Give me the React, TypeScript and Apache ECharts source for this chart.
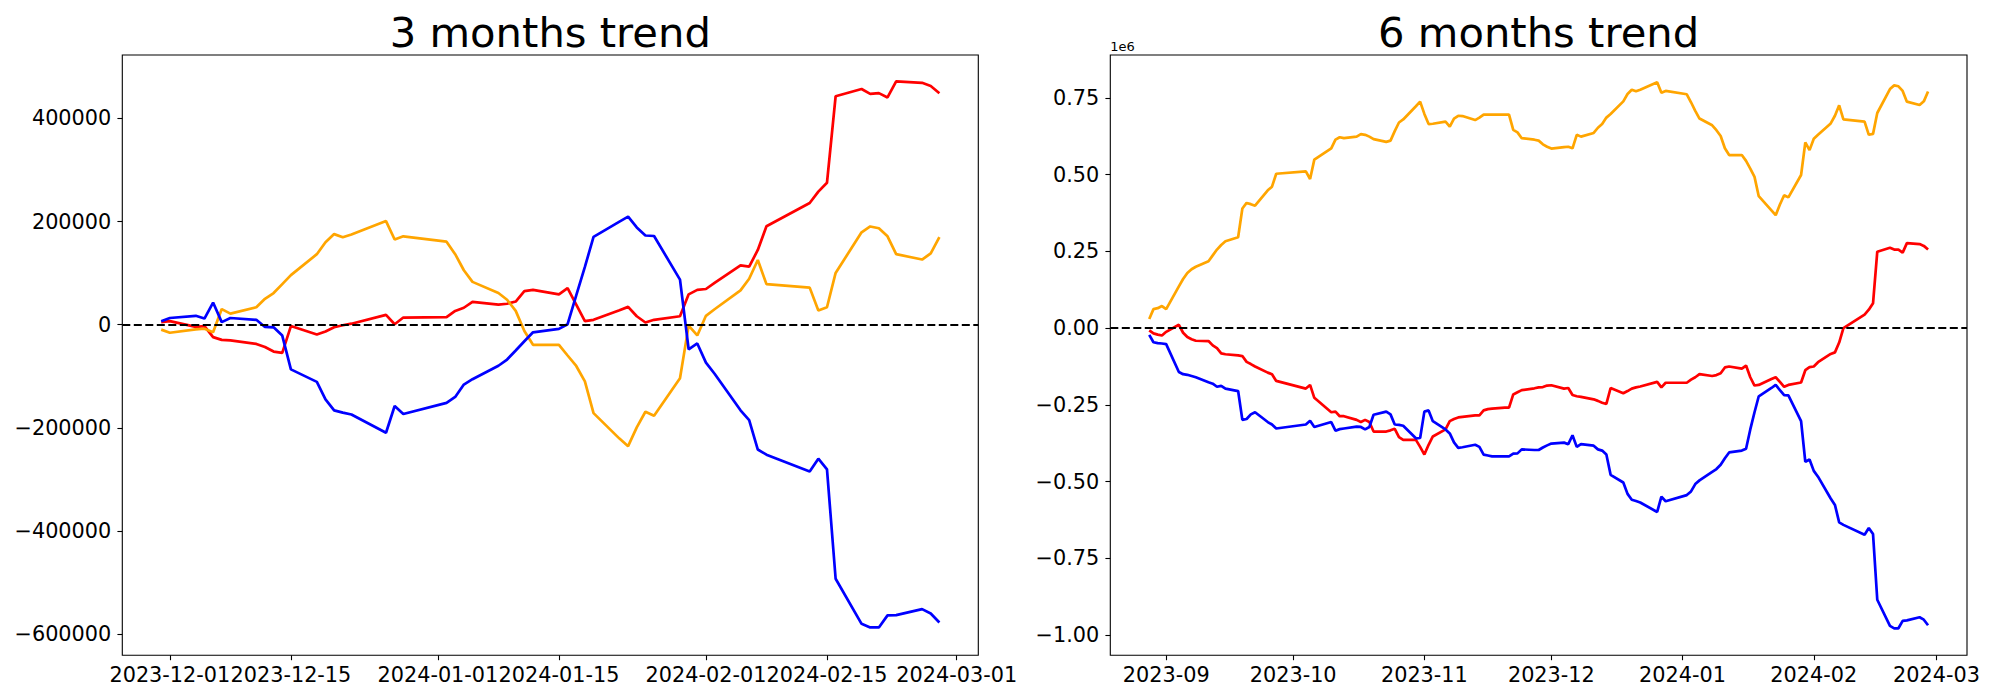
import React, { useEffect, useRef } from "react";
import * as echarts from "echarts";

// ---------- 3 months data (Korean trading days) ----------
const dates3m = [
  "2023-11-30",
  "2023-12-01", "2023-12-04", "2023-12-05", "2023-12-06", "2023-12-07", "2023-12-08",
  "2023-12-11", "2023-12-12", "2023-12-13", "2023-12-14", "2023-12-15",
  "2023-12-18", "2023-12-19", "2023-12-20", "2023-12-21", "2023-12-22",
  "2023-12-26", "2023-12-27", "2023-12-28",
  "2024-01-02", "2024-01-03", "2024-01-04", "2024-01-05",
  "2024-01-08", "2024-01-09", "2024-01-10", "2024-01-11", "2024-01-12",
  "2024-01-15", "2024-01-16", "2024-01-17", "2024-01-18", "2024-01-19",
  "2024-01-22", "2024-01-23", "2024-01-24", "2024-01-25", "2024-01-26",
  "2024-01-29", "2024-01-30", "2024-01-31",
  "2024-02-01", "2024-02-02", "2024-02-05", "2024-02-06", "2024-02-07", "2024-02-08",
  "2024-02-13", "2024-02-14", "2024-02-15", "2024-02-16",
  "2024-02-19", "2024-02-20", "2024-02-21", "2024-02-22", "2024-02-23",
  "2024-02-26", "2024-02-27", "2024-02-28",
];
const red3m = [
  5000,
  7000, -4300, -2600, -24000, -29400, -30300, -37200, -43300, -52000, -54500, -2600, -19000, -13000, -5000, -1000, 2000, 19000, 900, 13900,
  14700, 26800, 32900, 44200, 39000, 40700, 45000, 65000, 67500, 58900, 71000, 39000, 7000, 9500, 28000, 34600, 16400, 4300, 9500, 16400, 58900, 67500,
  69300, 81000, 115000, 112500, 145000, 191000, 236000, 258000, 275300, 443000, 457000, 447600, 449000, 440700, 472000, 469000, 463000, 449000,
];
const orange3m = [
  -9500,
  -15600, -9000, -7800, -14700, 30300, 21600, 33800, 50200, 61500, 78800, 96100, 136800, 160000, 175700, 169700, 175000, 200900, 165300, 171400,
  161000, 136800, 105600, 83100, 61500, 48500, 26800, -12100, -39000, -39000, -59700, -80000, -110000, -171400, -220800, -235500, -199100, -168800, -176600, -103900, -1700, -20800,
  17300, 30000, 66700, 89200, 125500, 78800, 71900, 27700, 33800, 100400, 179200, 190500, 187000, 171400, 136800, 126400, 138500, 169700,
];
const blue3m = [
  6900,
  13000, 17300, 12000, 43000, 5000, 13000, 9500, -4300, -5000, -21000, -86600, -110800, -144600, -166000, -170500, -174000, -209500, -157600, -173000,
  -151500, -140000, -116000, -105600, -79600, -67500, -50000, -32000, -14700, -8000, 1000, 57000, 112000, 170500, 200000, 209500, 188700, 173000, 172000, 87400, -47600, -36400,
  -73600, -95000, -166000, -185000, -242000, -252000, -284800, -259700, -280500, -492600, -580000, -587000, -587000, -563600, -563000, -551500, -560000, -577500,
];

// ---------- 6 months data (values in units of 1e6) ----------
const dates6m = [
  "2023-08-28", "2023-08-29", "2023-08-30", "2023-08-31",
  "2023-09-01", "2023-09-04", "2023-09-05", "2023-09-06", "2023-09-07", "2023-09-08",
  "2023-09-11", "2023-09-12", "2023-09-13", "2023-09-14", "2023-09-15",
  "2023-09-18", "2023-09-19", "2023-09-20", "2023-09-21", "2023-09-22",
  "2023-09-25", "2023-09-26", "2023-09-27",
  "2023-10-04", "2023-10-05", "2023-10-06", "2023-10-10", "2023-10-11", "2023-10-12", "2023-10-13",
  "2023-10-16", "2023-10-17", "2023-10-18", "2023-10-19", "2023-10-20",
  "2023-10-23", "2023-10-24", "2023-10-25", "2023-10-26", "2023-10-27", "2023-10-30", "2023-10-31",
  "2023-11-01", "2023-11-02", "2023-11-03", "2023-11-06", "2023-11-07", "2023-11-08", "2023-11-09", "2023-11-10",
  "2023-11-13", "2023-11-14", "2023-11-15", "2023-11-16", "2023-11-17",
  "2023-11-20", "2023-11-21", "2023-11-22", "2023-11-23", "2023-11-24",
  "2023-11-27", "2023-11-28", "2023-11-29", "2023-11-30",
  "2023-12-01", "2023-12-04", "2023-12-05", "2023-12-06", "2023-12-07", "2023-12-08",
  "2023-12-11", "2023-12-12", "2023-12-13", "2023-12-14", "2023-12-15",
  "2023-12-18", "2023-12-19", "2023-12-20", "2023-12-21", "2023-12-22",
  "2023-12-26", "2023-12-27", "2023-12-28",
  "2024-01-02", "2024-01-03", "2024-01-04", "2024-01-05",
  "2024-01-08", "2024-01-09", "2024-01-10", "2024-01-11", "2024-01-12",
  "2024-01-15", "2024-01-16", "2024-01-17", "2024-01-18", "2024-01-19",
  "2024-01-22", "2024-01-23", "2024-01-24", "2024-01-25", "2024-01-26",
  "2024-01-29", "2024-01-30", "2024-01-31",
  "2024-02-01", "2024-02-02", "2024-02-05", "2024-02-06", "2024-02-07", "2024-02-08",
  "2024-02-13", "2024-02-14", "2024-02-15", "2024-02-16",
  "2024-02-19", "2024-02-20", "2024-02-21", "2024-02-22", "2024-02-23",
  "2024-02-26", "2024-02-27", "2024-02-28",
];
const orange6m = [
  0.030, 0.062, 0.065, 0.072,
  0.062, 0.136, 0.160, 0.180, 0.192, 0.200, 0.218, 0.237, 0.256, 0.271, 0.283, 0.296, 0.390, 0.408, 0.404, 0.399, 0.449, 0.461, 0.503,
  0.511, 0.486, 0.549, 0.586, 0.614, 0.622, 0.619, 0.624, 0.632, 0.630, 0.624, 0.616, 0.607, 0.611, 0.642, 0.670, 0.680, 0.723, 0.738,
  0.698, 0.665, 0.666, 0.673, 0.657, 0.683, 0.692, 0.691, 0.678, 0.686, 0.696, 0.696, 0.696, 0.696, 0.696, 0.646, 0.638, 0.619, 0.614, 0.611, 0.599, 0.591,
  0.585, 0.590, 0.591, 0.586, 0.630, 0.624, 0.636, 0.653, 0.665, 0.686, 0.698, 0.739, 0.763, 0.777, 0.772, 0.777, 0.801, 0.767, 0.773,
  0.762, 0.736, 0.708, 0.683, 0.661, 0.645, 0.626, 0.586, 0.564, 0.564, 0.545, 0.520, 0.493, 0.430, 0.384, 0.368, 0.403, 0.433, 0.426, 0.499, 0.605, 0.580,
  0.617, 0.630, 0.667, 0.692, 0.726, 0.680, 0.673, 0.630, 0.633, 0.701, 0.779, 0.791, 0.788, 0.773, 0.738, 0.727, 0.739, 0.771,
];
const red6m = [
  -0.007, -0.017, -0.021, -0.024,
  -0.012, 0.011, -0.015, -0.029, -0.036, -0.041, -0.042, -0.056, -0.065, -0.082, -0.085, -0.089, -0.091, -0.110, -0.117, -0.125, -0.145, -0.150, -0.172,
  -0.197, -0.185, -0.227, -0.274, -0.272, -0.287, -0.287, -0.299, -0.306, -0.299, -0.306, -0.337, -0.337, -0.333, -0.328, -0.355, -0.364, -0.364, -0.387,
  -0.412, -0.380, -0.353, -0.330, -0.303, -0.296, -0.291, -0.289, -0.284, -0.284, -0.268, -0.264, -0.262, -0.259, -0.259, -0.216, -0.209, -0.202, -0.196, -0.193, -0.192, -0.187,
  -0.186, -0.197, -0.195, -0.218, -0.222, -0.224, -0.232, -0.237, -0.243, -0.247, -0.195, -0.212, -0.205, -0.197, -0.193, -0.190, -0.175, -0.193, -0.178,
  -0.178, -0.168, -0.160, -0.150, -0.156, -0.153, -0.147, -0.128, -0.125, -0.132, -0.122, -0.160, -0.187, -0.185, -0.166, -0.160, -0.175, -0.191, -0.185, -0.177, -0.137, -0.127,
  -0.125, -0.111, -0.084, -0.079, -0.047, 0.000, 0.044, 0.060, 0.081, 0.249, 0.262, 0.256, 0.256, 0.246, 0.277, 0.274, 0.268, 0.256,
];
const blue6m = [
  -0.022, -0.046, -0.049, -0.050,
  -0.052, -0.143, -0.150, -0.152, -0.156, -0.160, -0.176, -0.181, -0.191, -0.188, -0.197, -0.205, -0.299, -0.296, -0.281, -0.274, -0.306, -0.314, -0.327,
  -0.314, -0.302, -0.322, -0.306, -0.334, -0.329, -0.327, -0.321, -0.322, -0.330, -0.322, -0.282, -0.272, -0.281, -0.314, -0.315, -0.318, -0.359, -0.358,
  -0.272, -0.268, -0.303, -0.330, -0.343, -0.372, -0.390, -0.388, -0.380, -0.387, -0.412, -0.415, -0.418, -0.418, -0.418, -0.409, -0.408, -0.395, -0.397, -0.397, -0.389, -0.382,
  -0.376, -0.373, -0.378, -0.349, -0.387, -0.378, -0.383, -0.395, -0.399, -0.412, -0.478, -0.503, -0.540, -0.559, -0.563, -0.568, -0.599, -0.549, -0.564,
  -0.544, -0.532, -0.508, -0.496, -0.468, -0.459, -0.445, -0.424, -0.405, -0.399, -0.393, -0.330, -0.274, -0.222, -0.195, -0.185, -0.202, -0.218, -0.219, -0.303, -0.436, -0.428,
  -0.465, -0.484, -0.555, -0.576, -0.633, -0.641, -0.673, -0.651, -0.671, -0.885, -0.970, -0.978, -0.978, -0.954, -0.952, -0.942, -0.950, -0.968,
];

// ---------- tick labels ----------
const xTicks3m = ["2023-12-01", "2023-12-15", "2024-01-01", "2024-01-15", "2024-02-01", "2024-02-15", "2024-03-01"];
const yTicks3m = [-600000, -400000, -200000, 0, 200000, 400000];
const xTicks6m = ["2023-09-01", "2023-10-01", "2023-11-01", "2023-12-01", "2024-01-01", "2024-02-01", "2024-03-01"];
const yTicks6m = [-1.0, -0.75, -0.5, -0.25, 0, 0.25, 0.5, 0.75];

const titles = ["3 months trend", "6 months trend"];
const offsetText6m = "1e6";

const COLORS = { red: "#ff0000", orange: "#ffa500", blue: "#0000ff" };
const FONT = "DejaVu Sans";
const DAY = 86400000;

function ts(s: string): number {
  const [y, m, d] = s.split("-").map(Number);
  return new Date(y, m - 1, d).getTime();
}
function pad(n: number) {
  return n < 10 ? "0" + n : "" + n;
}
function fmtDay(v: number) {
  const d = new Date(Math.round(v));
  return `${d.getFullYear()}-${pad(d.getMonth() + 1)}-${pad(d.getDate())}`;
}
function fmtMonth(v: number) {
  const d = new Date(Math.round(v));
  return `${d.getFullYear()}-${pad(d.getMonth() + 1)}`;
}
function minus(s: string) {
  return s.replace("-", "\u2212");
}

function zip(dates: string[], vals: number[]) {
  const n = Math.min(dates.length, vals.length);
  const out: [number, number][] = [];
  for (let i = 0; i < n; i++) out.push([ts(dates[i]), vals[i]]);
  return out;
}

export default function App() {
  const ref = useRef<HTMLDivElement>(null);
  useEffect(() => {
    if (!ref.current) return;
    const chart = echarts.init(ref.current, null, { renderer: "svg" });

    const tickStyle = { show: true, inside: false, length: 4.9, lineStyle: { color: "#000", width: 1.1 } };
    const labelBase = { color: "#000", fontSize: 20.8, fontFamily: FONT };
    const noLine = { show: false, onZero: false };

    const mkLine = (name: string, color: string, data: any, axis: number, withZero: boolean) => {
      const s: any = {
        name,
        type: "line",
        xAxisIndex: axis,
        yAxisIndex: axis,
        data,
        symbol: "none",
        showSymbol: false,
        lineStyle: { color, width: 2.7 },
        itemStyle: { color },
        emphasis: { disabled: true },
        animation: false,
      };
      if (withZero) {
        s.markLine = {
          silent: true,
          symbol: ["none", "none"],
          label: { show: false },
          lineStyle: { color: "#000", type: [8, 3.5], width: 2.1 },
          data: [{ yAxis: 0 }],
          animation: false,
          z: 10,
        };
      }
      return s;
    };

    const option: any = {
      animation: false,
      backgroundColor: "#fff",
      textStyle: { fontFamily: FONT },
      grid: [
        { left: 122.3, top: 55, width: 856, height: 600.3, show: true, borderColor: "#000", borderWidth: 1.1, backgroundColor: "transparent", containLabel: false },
        { left: 1110.3, top: 55, width: 856.7, height: 600.3, show: true, borderColor: "#000", borderWidth: 1.1, backgroundColor: "transparent", containLabel: false },
      ],
      xAxis: [
        {
          type: "value",
          gridIndex: 0,
          position: "bottom",
          min: ts("2023-11-25") + DAY / 2,
          max: ts("2024-03-03") + DAY / 2,
          axisLine: noLine,
          splitLine: { show: false },
          axisTick: { ...tickStyle, customValues: xTicks3m.map(ts) },
          axisLabel: { ...labelBase, margin: 9, customValues: xTicks3m.map(ts), formatter: (v: number) => fmtDay(v) },
        },
        {
          type: "value",
          gridIndex: 1,
          position: "bottom",
          min: ts("2023-08-28") - 9.2 * DAY,
          max: ts("2024-02-28") + 9.2 * DAY,
          axisLine: noLine,
          splitLine: { show: false },
          axisTick: { ...tickStyle, customValues: xTicks6m.map(ts) },
          axisLabel: { ...labelBase, margin: 9, customValues: xTicks6m.map(ts), formatter: (v: number) => fmtMonth(v) },
        },
      ],
      yAxis: [
        {
          type: "value",
          gridIndex: 0,
          position: "left",
          min: -641000,
          max: 523000,
          axisLine: noLine,
          splitLine: { show: false },
          axisTick: { ...tickStyle, customValues: yTicks3m },
          axisLabel: { ...labelBase, margin: 11, customValues: yTicks3m, formatter: (v: number) => minus(String(Math.round(v))) },
        },
        {
          type: "value",
          gridIndex: 1,
          position: "left",
          min: -1.066,
          max: 0.89,
          axisLine: noLine,
          splitLine: { show: false },
          axisTick: { ...tickStyle, customValues: yTicks6m },
          axisLabel: { ...labelBase, margin: 11, customValues: yTicks6m, formatter: (v: number) => minus(v.toFixed(2)) },
        },
      ],
      series: [
        mkLine("red3m", COLORS.red, zip(dates3m, red3m), 0, false),
        mkLine("orange3m", COLORS.orange, zip(dates3m, orange3m), 0, false),
        mkLine("blue3m", COLORS.blue, zip(dates3m, blue3m), 0, true),
        mkLine("red6m", COLORS.red, zip(dates6m, red6m), 1, false),
        mkLine("orange6m", COLORS.orange, zip(dates6m, orange6m), 1, false),
        mkLine("blue6m", COLORS.blue, zip(dates6m, blue6m), 1, true),
      ],
      graphic: [
        {
          type: "text",
          x: 550.3,
          y: 32.5,
          style: { text: titles[0], fill: "#000", font: `41.7px "${FONT}"`, align: "center", verticalAlign: "middle" },
        },
        {
          type: "text",
          x: 1538.6,
          y: 32.5,
          style: { text: titles[1], fill: "#000", font: `41.7px "${FONT}"`, align: "center", verticalAlign: "middle" },
        },
        {
          type: "text",
          x: 1110.3,
          y: 46.5,
          style: { text: offsetText6m, fill: "#000", font: `13px "${FONT}"`, align: "left", verticalAlign: "middle" },
        },
      ],
    };
    chart.setOption(option);
    return () => chart.dispose();
  }, []);
  return <div ref={ref} style={{ position: "absolute", left: 0, top: 0, width: 2000, height: 700, background: "#fff" }} />;
}
